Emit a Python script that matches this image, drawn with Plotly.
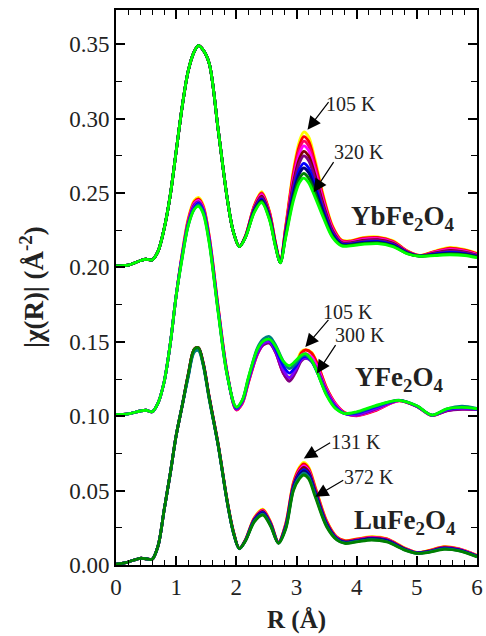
import plotly.graph_objects as go

SERIF = "Liberation Serif"

# ---------------- YbFe2O4 (plotted with +0.20 offset) ----------------
yb_offset = 0.20
# low-R part where all temperatures coincide
yb_head_r = [0.0, 0.2, 0.4, 0.5, 0.6, 0.7, 0.8, 0.9, 1.0, 1.1, 1.2, 1.3, 1.37, 1.45, 1.55, 1.7, 1.85, 1.95, 2.05]
yb_head = [0.001, 0.0015, 0.0045, 0.0055, 0.005, 0.011, 0.026, 0.048, 0.078, 0.108, 0.132, 0.145, 0.149,
           0.146, 0.137, 0.092, 0.046, 0.024, 0.014]
yb_tail_r = [2.15, 2.3, 2.42, 2.55, 2.65, 2.73, 2.82, 2.95, 3.05, 3.12, 3.2, 3.3, 3.45, 3.6, 3.75, 3.9,
             4.1, 4.35, 4.6, 4.85, 5.05, 5.3, 5.55, 5.8, 6.0]
yb_colors = ["#FFFF00", "#FF0000", "#FF0066", "#FF00FF", "#800000", "#800080", "#0000FF", "#000080",
             "#008000", "#00FF00"]
yb_tails = [
    [.021, .042, .051, .038, .017, .004, .028, .066, .085, .091, .088, .074, .048, .028, .0185, .018, .020, .0205, .018, .011, .008, .011, .0135, .012, .0095],
    [.021, .0415, .050, .0374, .0167, .004, .0272, .0639, .0822, .0879, .0849, .0714, .0465, .0272, .0181, .0177, .0196, .0201, .0176, .0108, .008, .0107, .013, .0116, .0092],
    [.0208, .041, .0495, .0368, .0164, .0038, .0264, .0618, .0794, .0848, .0818, .0688, .045, .0264, .0177, .0173, .0191, .0196, .0172, .0106, .0079, .0104, .0125, .0112, .0089],
    [.0207, .0405, .0488, .0362, .0161, .0037, .0256, .0597, .0766, .0817, .0787, .0662, .0435, .0256, .0173, .017, .0187, .0192, .0168, .0104, .0079, .0101, .012, .0108, .0086],
    [.0206, .0399, .0479, .0355, .0157, .0036, .0246, .0572, .0732, .078, .075, .0631, .0417, .0246, .0168, .0165, .0181, .0186, .0163, .0102, .0078, .0097, .0114, .0103, .0082],
    [.0205, .0394, .0471, .0349, .0154, .0035, .0238, .0551, .0704, .0749, .0719, .0605, .0402, .0238, .0164, .0162, .0177, .0182, .0159, .010, .0077, .0094, .0109, .0099, .008],
    [.0203, .0386, .0459, .0339, .015, .0033, .0226, .0517, .066, .0699, .0669, .0563, .0378, .0226, .0158, .0156, .0169, .0174, .0153, .0096, .0077, .009, .0101, .0093, .0075],
    [.0202, .0381, .0452, .0333, .0147, .0032, .0218, .0496, .0632, .0668, .0638, .0537, .0363, .0218, .0154, .0153, .0165, .017, .0149, .0094, .0076, .0087, .0096, .0089, .0072],
    [.0201, .0375, .0443, .0326, .0143, .0031, .0208, .0471, .0598, .0631, .0601, .0506, .0345, .0208, .0149, .0149, .016, .0165, .0144, .0092, .0076, .0083, .009, .0084, .0068],
    [.020, .037, .0435, .032, .014, .003, .020, .045, .057, .060, .057, .048, .033, .020, .0145, .0145, .0155, .016, .014, .009, .0075, .008, .0085, .008, .0065],
]

# ---------------- YFe2O4 (plotted with +0.10 offset) ----------------
y_offset = 0.10
y_head_r = [0.0, 0.2, 0.4, 0.5, 0.6, 0.7, 0.8, 0.9, 1.0]
y_head = [0.001, 0.0015, 0.0035, 0.004, 0.003, 0.009, 0.023, 0.048, 0.081]
y_tail_r = [1.1, 1.2, 1.3, 1.37, 1.45, 1.55, 1.7, 1.85, 2.0, 2.1, 2.2, 2.35, 2.45, 2.55, 2.65, 2.78, 2.88,
            2.98, 3.08, 3.15, 3.25, 3.35, 3.5, 3.65, 3.8, 4.0, 4.3, 4.7, 5.0, 5.25, 5.5, 5.75, 6.0]
y_colors = ["#FFFF00", "#FF0000", "#FF00FF", "#800080", "#8000FF", "#0000FF", "#008080", "#00FF00"]
y_tails = [
    [.110, .133, .145, .147, .142, .121, .073, .029, .0045, .009, .023, .042, .049, .0505, .044, .030, .026, .034, .0435, .0448, .043, .035, .019, .008, .002, .0005, .004, .0105, .0065, .0005, .004, .0055, .0048],
    [.109, .132, .144, .146, .141, .121, .073, .029, .0042, .0085, .0225, .0415, .0485, .050, .0435, .029, .024, .032, .0425, .0445, .0425, .035, .019, .0085, .0025, .0003, .0035, .0103, .0065, .0005, .0038, .0052, .0046],
    [.109, .131, .143, .145, .140, .120, .072, .028, .0044, .009, .023, .0415, .048, .0495, .043, .029, .024, .031, .041, .042, .040, .033, .018, .008, .002, .0005, .004, .0104, .0066, .0005, .0038, .0048, .0045],
    [.108, .130, .142, .144, .139, .119, .071, .028, .0048, .0095, .0235, .042, .048, .049, .043, .029, .0235, .029, .037, .0388, .037, .031, .017, .007, .0018, .0008, .0045, .0105, .0066, .0006, .0036, .0046, .0044],
    [.108, .129, .141, .1435, .138, .118, .071, .028, .005, .010, .024, .043, .049, .050, .044, .031, .026, .031, .038, .039, .037, .030, .016, .0065, .0018, .0012, .005, .0106, .0067, .0006, .0042, .0052, .0046],
    [.107, .129, .140, .143, .138, .118, .070, .0275, .0055, .0105, .025, .0445, .0505, .0515, .0455, .034, .029, .033, .039, .040, .037, .029, .015, .006, .0018, .002, .006, .0107, .0068, .0007, .0046, .0058, .0048],
    [.107, .128, .139, .142, .137, .117, .070, .027, .006, .0108, .0255, .046, .052, .0535, .048, .037, .032, .035, .040, .041, .037, .029, .0145, .0055, .0018, .0025, .0065, .0108, .007, .0008, .005, .0067, .0052],
    [.106, .128, .139, .141, .136, .116, .069, .027, .0062, .011, .026, .045, .0505, .0517, .047, .037, .034, .037, .041, .042, .038, .029, .014, .005, .0018, .003, .007, .0107, .007, .0008, .005, .006, .005],
]

# ---------------- LuFe2O4 (no offset) ----------------
lu_offset = 0.0
lu_head_r = [0.0, 0.2, 0.4, 0.5, 0.6, 0.7, 0.8, 0.9, 1.0, 1.1]
lu_head = [0.0005, 0.002, 0.0045, 0.0042, 0.0038, 0.013, 0.037, 0.061, 0.087, 0.107]
lu_tail_r = [1.2, 1.3, 1.37, 1.45, 1.55, 1.7, 1.85, 1.95, 2.05, 2.15, 2.3, 2.44, 2.57, 2.7, 2.82, 2.95,
             3.05, 3.12, 3.2, 3.31, 3.5, 3.67, 3.8, 4.0, 4.25, 4.5, 4.8, 5.0, 5.2, 5.45, 5.7, 6.0]
lu_colors = ["#FFFF00", "#FF0000", "#FF00FF", "#800000", "#0000FF", "#000080", "#008080", "#008000"]
lu_tails = [
    [.128, .145, .146, .136, .113, .081, .043, .023, .011, .017, .032, .0376, .029, .0155, .028, .056, .066, .069, .066, .053, .030, .019, .0165, .0175, .019, .0178, .0115, .0085, .0098, .0123, .011, .0065],
    [.128, .145, .146, .136, .113, .081, .043, .023, .011, .0169, .0316, .0371, .0286, .0154, .0275, .0553, .065, .068, .065, .0522, .0295, .0187, .0163, .0173, .0187, .0175, .0113, .0084, .0096, .0121, .0108, .0064],
    [.128, .145, .146, .1355, .1125, .0805, .0425, .0225, .011, .0167, .0312, .0365, .0282, .0152, .0269, .0543, .0638, .0666, .0638, .051, .0288, .0184, .0159, .0169, .0184, .0172, .0111, .0083, .0094, .0118, .0106, .0062],
    [.128, .145, .146, .1355, .1125, .0805, .0425, .0225, .011, .0166, .0308, .036, .0278, .0151, .0264, .0536, .0628, .0656, .0628, .0502, .0283, .0181, .0157, .0167, .0181, .0169, .0109, .0082, .0093, .0116, .0104, .0061],
    [.127, .144, .1455, .135, .112, .080, .042, .022, .011, .0164, .0303, .0353, .0273, .0149, .0257, .0525, .0614, .0641, .0614, .0489, .0275, .0177, .0153, .0163, .0177, .0165, .0106, .0081, .009, .0113, .0101, .0059],
    [.127, .144, .145, .135, .112, .080, .042, .022, .011, .0163, .0299, .0348, .0269, .0148, .0252, .0518, .0604, .063, .0604, .0481, .027, .0175, .0151, .0161, .0175, .0162, .0105, .008, .0089, .011, .010, .0058],
    [.126, .143, .144, .134, .111, .080, .042, .022, .0108, .0162, .0295, .0342, .0265, .0147, .0246, .0509, .0592, .0618, .0592, .0471, .0263, .0171, .0148, .0158, .0171, .0158, .0102, .0079, .0087, .0108, .0097, .0057],
    [.128, .145, .146, .135, .112, .080, .042, .022, .011, .016, .029, .0336, .026, .0145, .024, .050, .058, .0605, .058, .046, .0257, .0168, .0145, .0155, .0168, .0155, .010, .0078, .0085, .0105, .0095, .0055],
]

compounds = [
    ("YbFe2O4", yb_offset, yb_head_r, yb_head, yb_tail_r, yb_tails, yb_colors),
    ("YFe2O4", y_offset, y_head_r, y_head, y_tail_r, y_tails, y_colors),
    ("LuFe2O4", lu_offset, lu_head_r, lu_head, lu_tail_r, lu_tails, lu_colors),
]

fig = go.Figure()
for name, off, hr, hv, tr, tails, colors in compounds:
    for tail, col in zip(tails, colors):
        r = hr + tr
        v = [val + off for val in hv + tail]
        fig.add_trace(go.Scatter(
            x=r, y=v, mode="lines", name=name, showlegend=False, hoverinfo="skip",
            line=dict(color=col, width=2.8, shape="spline", smoothing=0.9),
        ))

# compound labels
labels = [
    ("<b>YbFe<sub>2</sub>O<sub>4</sub></b>", 4.77, 0.233),
    ("<b>YFe<sub>2</sub>O<sub>4</sub></b>", 4.70, 0.125),
    ("<b>LuFe<sub>2</sub>O<sub>4</sub></b>", 4.80, 0.029),
]
for txt, x, y in labels:
    fig.add_annotation(x=x, y=y, xref="x", yref="y", text=txt, showarrow=False,
                       font=dict(family=SERIF, size=27, color="#222"),
                       xanchor="center", yanchor="middle")

# temperature labels with arrows (text position, arrow tip, arrow tail)
temp_labels = [
    ("105 K", (3.90, 0.310), (3.183, 0.2926), (3.552, 0.3121)),
    ("320 K", (4.04, 0.2774), (3.285, 0.2505), (3.633, 0.2718)),
    ("105 K", (3.86, 0.1698), (3.147, 0.1465), (3.552, 0.1658)),
    ("300 K", (4.06, 0.1544), (3.339, 0.1287), (3.666, 0.1488)),
    ("131 K", (3.99, 0.0828), (3.121, 0.0716), (3.584, 0.0828)),
    ("372 K", (4.20, 0.0593), (3.311, 0.0458), (3.802, 0.0575)),
]
for txt, (tx, ty), (hx, hy), (ax, ay) in temp_labels:
    fig.add_annotation(x=tx, y=ty, xref="x", yref="y", text=txt, showarrow=False,
                       font=dict(family=SERIF, size=20, color="#222"),
                       xanchor="center", yanchor="middle")
    fig.add_annotation(x=hx, y=hy, ax=ax, ay=ay, xref="x", yref="y", axref="x", ayref="y",
                       text="", showarrow=True, arrowhead=2, arrowsize=2.2, arrowwidth=1.2,
                       arrowcolor="black", standoff=0)

# axis titles
fig.add_annotation(x=0.5, y=-0.099, xref="paper", yref="paper", text="<b>R (Å)</b>",
                   showarrow=False, font=dict(family=SERIF, size=25, color="#222"),
                   xanchor="center", yanchor="middle")
fig.add_annotation(x=-0.234, y=0.5, xref="paper", yref="paper",
                   text="<b>|χ(R)| (Å<sup>-2</sup>)</b>", textangle=-90,
                   showarrow=False, font=dict(family=SERIF, size=27, color="#222"),
                   xanchor="center", yanchor="middle")

axis_common = dict(
    showgrid=False, zeroline=False, showline=True, linecolor="black", linewidth=2,
    mirror="allticks", ticks="inside", ticklen=9, tickwidth=1.6, tickcolor="black",
    tickfont=dict(family=SERIF, size=23, color="#222"), ticklabeloverflow="allow",
)
fig.update_xaxes(range=[0, 6], tick0=0, dtick=1,
                 minor=dict(dtick=0.2, ticks="inside", ticklen=5, tickwidth=1.4, tickcolor="black"),
                 **axis_common)
fig.update_yaxes(range=[0, 0.373], tick0=0, dtick=0.05, tickformat=".2f",
                 minor=dict(dtick=0.025, ticks="inside", ticklen=6, tickwidth=1.4, tickcolor="black"),
                 **axis_common)

fig.update_layout(
    width=486, height=636, margin=dict(l=116, r=3, t=10, b=71),
    paper_bgcolor="white", plot_bgcolor="white", showlegend=False,
    font=dict(family=SERIF),
)

fig.write_html("out.html")
